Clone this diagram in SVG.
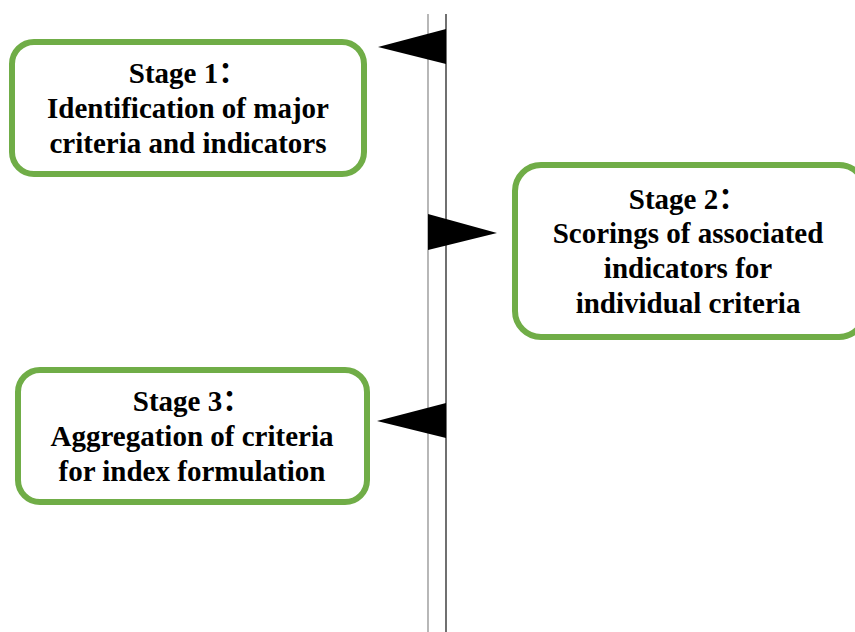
<svg xmlns="http://www.w3.org/2000/svg" width="855" height="632" viewBox="0 0 855 632">
<style>
.box{fill:#fff;stroke:#70AD47;stroke-width:6}
.t{font-family:"Liberation Serif","Noto Sans CJK SC",serif;font-weight:bold;font-size:29px;fill:#000;text-anchor:middle}
.arr{fill:#000}
</style>
<rect width="855" height="632" fill="#fff"/>
<g id="connectors">
<line x1="428" y1="14" x2="428" y2="632" stroke="#888" stroke-width="1.2"/>
<line x1="446" y1="14" x2="446" y2="632" stroke="#111" stroke-width="1.2"/>
<polygon class="arr" points="446,29 446,64 378,47"/>
<polygon class="arr" points="428,214 428,250 497,233"/>
<polygon class="arr" points="446,403 446,438 377,421"/>
</g>
<g id="stage1">
<rect class="box" x="12" y="42" width="352" height="132" rx="22"/>
<text class="t" x="188" y="83">Stage 1：</text>
<text class="t" x="188" y="118">Identification of major</text>
<text class="t" x="188" y="153">criteria and indicators</text>
</g>
<g id="stage2">
<rect class="box" x="515" y="165" width="350" height="172" rx="26"/>
<text class="t" x="688" y="209">Stage 2：</text>
<text class="t" x="688" y="243">Scorings of associated</text>
<text class="t" x="688" y="278">indicators for</text>
<text class="t" x="688" y="313">individual criteria</text>
</g>
<g id="stage3">
<rect class="box" x="18" y="370" width="349" height="132" rx="22"/>
<text class="t" x="192" y="411">Stage 3：</text>
<text class="t" x="192" y="446">Aggregation of criteria</text>
<text class="t" x="192" y="481">for index formulation</text>
</g>
</svg>
